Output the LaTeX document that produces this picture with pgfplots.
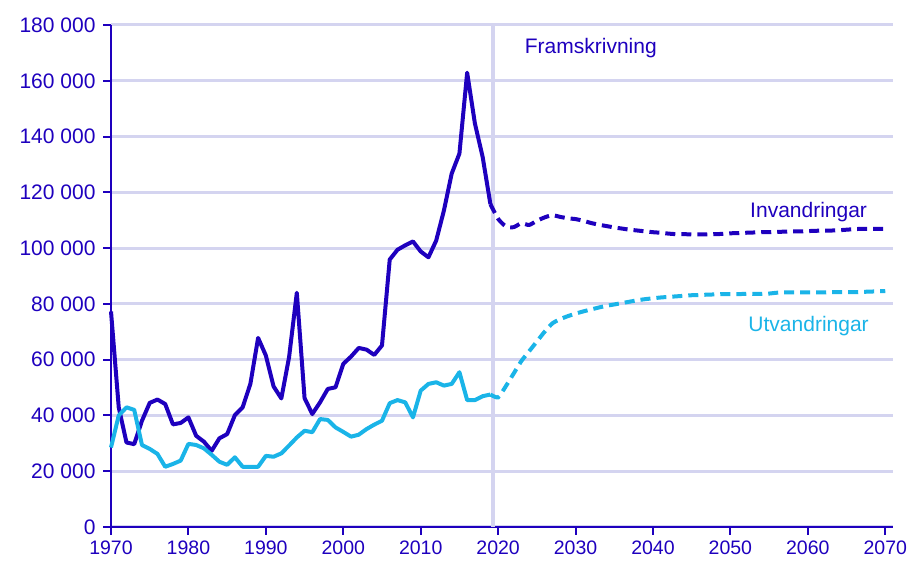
\documentclass[border=0pt]{standalone}
\usepackage{fontspec}
\setmainfont{Liberation Sans}
\usepackage{pgfplots}
\pgfplotsset{compat=1.18}
\definecolor{InvBlue}{HTML}{1E00BE}
\definecolor{UtvBlue}{HTML}{1AB4E8}
\definecolor{GridLav}{HTML}{D4D4F0}

% historical series, 1970-2019
\pgfplotstableread{
year inv utv
1970 77300 28500
1971 42900 40000
1972 30300 42900
1973 29700 42000
1974 38100 29400
1975 44500 28000
1976 45700 26200
1977 44100 21600
1978 36800 22600
1979 37300 23800
1980 39300 29800
1981 32700 29400
1982 30600 28200
1983 27300 25900
1984 31800 23400
1985 33300 22300
1986 40100 25000
1987 42900 21600
1988 51300 21600
1989 67800 21600
1990 61500 25500
1991 50400 25200
1992 46100 26400
1993 60900 29200
1994 84000 32100
1995 46200 34500
1996 40500 34000
1997 44700 38700
1998 49500 38400
1999 50100 35700
2000 58500 34100
2001 61100 32400
2002 64200 33100
2003 63600 35100
2004 61700 36700
2005 65100 38100
2006 95900 44400
2007 99400 45500
2008 101000 44700
2009 102400 39300
2010 98800 48900
2011 96700 51300
2012 102700 51900
2013 113500 50700
2014 126700 51300
2015 133900 55500
2016 162900 45500
2017 144700 45500
2018 132700 46900
2019 115800 47500
}\hist

% projection, 2019-2070
\pgfplotstableread{
year inv utv
2019 115800 47500
2020 110500 46500
2021 107800 50500
2022 107500 55000
2023 108900 59500
2024 108300 63000
2025 109800 66500
2026 111000 70000
2027 111800 73000
2028 111200 74500
2029 110700 75600
2030 110400 76500
2031 109800 77300
2032 109000 78000
2033 108400 78700
2034 107900 79300
2035 107400 79800
2036 107000 80300
2037 106600 80800
2038 106300 81300
2039 106000 81700
2040 105700 82000
2041 105500 82300
2042 105200 82500
2043 105000 82700
2044 105000 82900
2045 104900 83100
2046 104900 83200
2047 104900 83300
2048 105000 83400
2049 105100 83500
2050 105300 83500
2051 105400 83500
2052 105500 83600
2053 105600 83600
2054 105700 83600
2055 105700 83700
2056 105800 84000
2057 105900 84100
2058 106000 84100
2059 106000 84100
2060 106100 84100
2061 106200 84100
2062 106300 84100
2063 106300 84200
2064 106400 84200
2065 106600 84200
2066 106800 84200
2067 106900 84300
2068 106900 84400
2069 106900 84500
2070 106900 84600
}\proj

\begin{document}
\begin{tikzpicture}
\begin{axis}[
  name=ax,
  scale only axis,
  width=782pt, height=502pt,
  xmin=1970, xmax=2071,
  ymin=0, ymax=180000,
  scaled y ticks=false,
  axis x line=bottom, axis y line=left,
  axis line style={draw=InvBlue, line width=2pt, -},
  tick align=outside,
  major tick length=8pt,
  tick style={draw=InvBlue, line width=2pt},
  xtick={1970,1980,...,2070},
  xticklabels={1970,1980,1990,2000,2010,2020,2030,2040,2050,2060,2070},
  ytick={0,20000,...,180000},
  yticklabels={0,20 000,40 000,60 000,80 000,100 000,120 000,140 000,160 000,180 000},
  tick label style={font=\fontsize{21}{24}\selectfont, text=InvBlue},
  yticklabel style={xshift=-4pt},
  xticklabel style={yshift=-2pt, font=\fontsize{19.5}{24}\selectfont},
  ymajorgrids,
  major grid style={draw=GridLav, line width=3pt},
  clip=false,
]
  \draw[GridLav, line width=3.5pt] (axis cs:2019.35,0) -- (axis cs:2019.35,180000);

  \addplot[InvBlue, line width=4pt, line join=round] table[x=year, y=inv] {\hist};
  \addplot[UtvBlue, line width=4pt, line join=round] table[x=year, y=utv] {\hist};
  \addplot[InvBlue, line width=4pt, dash pattern=on 10pt off 6pt, smooth, tension=0.4] table[x=year, y=inv] {\proj};
  \addplot[UtvBlue, line width=4pt, dash pattern=on 10pt off 6pt, smooth, tension=0.4] table[x=year, y=utv] {\proj};

  \node[anchor=west, text=InvBlue, font=\fontsize{21}{24}\selectfont] at (axis cs:2023.0,171700) {Framskrivning};
  \node[text=InvBlue, font=\fontsize{21}{24}\selectfont] at (axis cs:2060.1,112900) {Invandringar};
  \node[text=UtvBlue, font=\fontsize{21}{24}\selectfont] at (axis cs:2060.1,72100) {Utvandringar};
\end{axis}
\pgfresetboundingbox
\path[use as bounding box] ([shift={(-111pt,-40pt)}]ax.south west) rectangle ([shift={(802pt,527pt)}]ax.south west);
\end{tikzpicture}
\end{document}
